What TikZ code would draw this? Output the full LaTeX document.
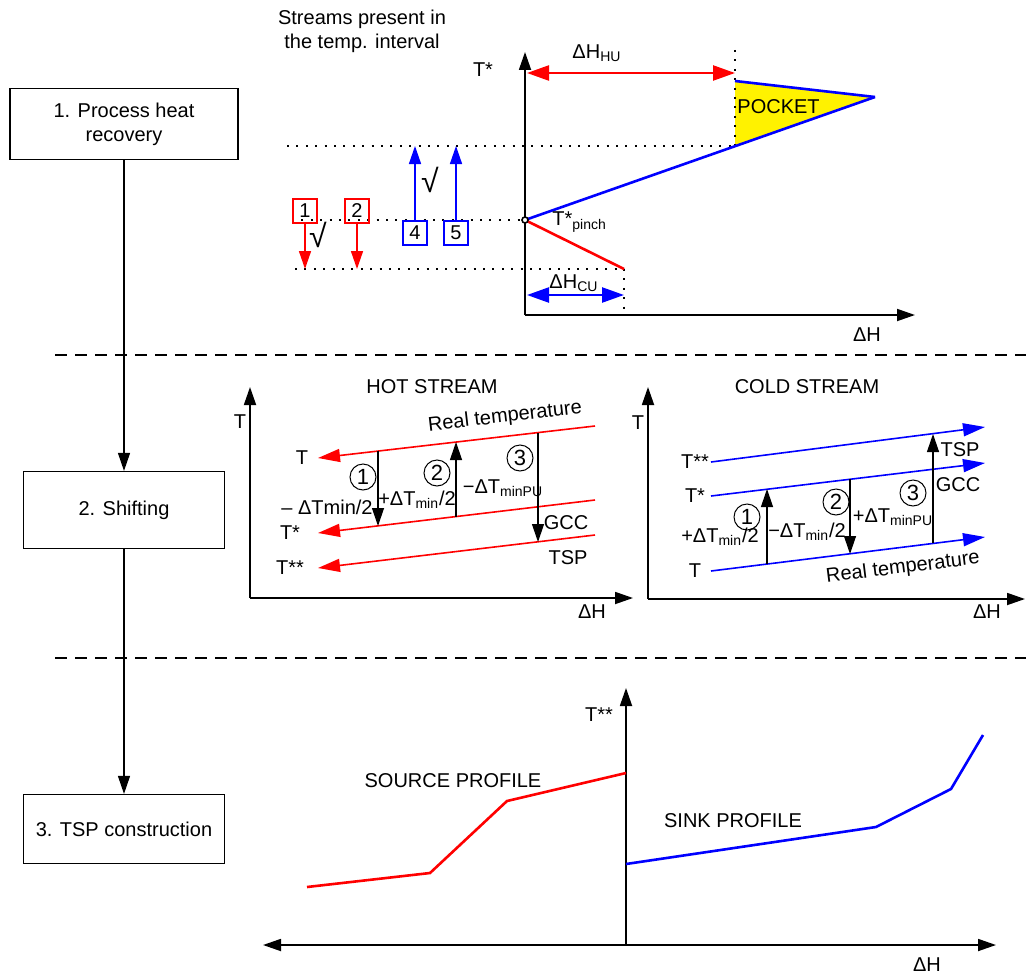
\documentclass[tikz,border=0pt]{standalone}
\usepackage{fontspec}
\setmainfont{Liberation Sans}
\usetikzlibrary{arrows.meta}
\tikzset{
    stepbox/.style={draw,line width=0.6pt,align=center},
    flow/.style={-{Triangle[length=9pt,width=6pt]},line width=0.6pt},
    axis/.style={-{Triangle[length=9pt,width=6pt]},line width=0.9pt},
    sep/.style={dash pattern=on 6pt off 4pt,line width=0.65pt},
    dots/.style={dash pattern=on 1pt off 3.7pt,line width=1pt},
    hotline/.style={red,line width=1.3pt},
    coldline/.style={blue,line width=1.3pt},
    shifted/.style={line width=0.8pt,-{Triangle[length=11pt,width=6.5pt]}},
    duty/.style={line width=1.2pt,{Triangle[length=11pt,width=7.5pt]}-{Triangle[length=11pt,width=7.5pt]}},
    shiftarrow/.style={-{Triangle[length=9pt,width=6pt]},line width=0.6pt},
    streamarrow/.style={-{Triangle[length=9pt,width=6pt]},line width=0.75pt},
    streambox/.style={draw,line width=0.7pt,minimum size=12pt,inner sep=0pt},
    circnum/.style={circle,draw,line width=0.5pt,minimum size=13pt,inner sep=0pt,font=\fontsize{11}{13}\selectfont},
    check/.style={font=\fontsize{16}{18}\selectfont},
    pinch/.style={circle,draw,fill=white,line width=0.8pt,minimum size=3pt,inner sep=0pt}
}

\begin{document}
\begin{tikzpicture}[x=0.5pt,y=-0.5pt,font=\fontsize{10}{12}\selectfont]
\useasboundingbox (0,0) rectangle (1026,974);

% steps on the left
\node[stepbox,minimum width=114pt,minimum height=35.5pt] (recov) at (124,124) {1. Process heat\\recovery};
\node[stepbox,minimum width=100.5pt,minimum height=38.5pt] (shift) at (124,510) {2. Shifting};
\node[stepbox,minimum width=100.5pt,minimum height=34.5pt] (tspbox) at (124,829) {3. TSP construction};
\draw[flow] (recov) -- (shift);
\draw[flow] (shift) -- (tspbox);

\draw[sep] (55,355) -- (1026,355);
\draw[sep] (55,658) -- (1026,658);

% 1. process heat recovery
\coordinate (o1) at (525,315);
\coordinate (pinchpt) at (525,220);
\coordinate (pocklow) at (735,146);
\coordinate (pocktop) at (735,81);
\coordinate (nose) at (875,97);
\coordinate (cuend) at (624,269);
\node[align=center] (streamtxt) at (362,31) {Streams present in\\the temp. interval};
\draw[axis] (o1) -- (525,52);
\draw[axis] (o1) -- (915,315);
\node (tstar) at (483,70) {T*};
\node (dh1) at (867,335) {ΔH};

\fill[yellow] (pocktop) -- (nose) -- (pocklow) -- cycle;
\node[anchor=west,inner sep=1pt] (pocket) at (735,107) {POCKET};
\draw[dots] (735,50) -- (pocklow);
\draw[dots] (287,146) -- (pocklow);
\draw[dots] (292,220) -- (pinchpt);
\draw[dots] (295,269) -- (cuend);
\draw[dots] (cuend) -- (624,315);
\draw[coldline] (pocktop) -- (nose);
\draw[coldline] (pinchpt) -- (nose);
\draw[hotline] (pinchpt) -- (cuend);
\node[pinch] (pinch) at (pinchpt) {};
\node[anchor=west,inner sep=1pt] (tpinch) at (550,222) {T*\textsubscript{pinch}};

\draw[duty,red] (527,73) -- (735,73);
\node (dhhu) at (597,53) {ΔH\textsubscript{HU}};
\draw[duty,blue] (527,295) -- (cuend |- 0,295);
\node (dhcu) at (574,283) {ΔH\textsubscript{CU}};

\node[streambox,red] (s1) at (305,211) {\textcolor{black}{1}};
\node[streambox,red] (s2) at (357,211) {\textcolor{black}{2}};
\node[streambox,blue] (s4) at (415,233) {\textcolor{black}{4}};
\node[streambox,blue] (s5) at (456,233) {\textcolor{black}{5}};
\draw[streamarrow,red] (s1) -- (s1 |- cuend);
\draw[streamarrow,red] (s2) -- (s2 |- cuend);
\draw[streamarrow,blue] (s4) -- (s4 |- pocklow);
\draw[streamarrow,blue] (s5) -- (s5 |- pocklow);
\node[check] (ok1) at (318,235) {√};
\node[check] (ok4) at (430,180) {√};

% 2. shifting, hot stream
\coordinate (o2) at (250,598);
\draw[axis] (o2) -- (250,387);
\draw[axis] (o2) -- (633,598);
\node (hotT) at (240,422) {T};
\node (hotdh) at (592,612) {ΔH};
\node (hottitle) at (432,387) {HOT STREAM};
\coordinate (h1a) at (595,426); \coordinate (h1b) at (318,458);
\coordinate (h2a) at (595,500); \coordinate (h2b) at (318,533);
\coordinate (h3a) at (595,535); \coordinate (h3b) at (318,568);
\draw[shifted,red] (h1a) -- (h1b);
\draw[shifted,red] (h2a) -- (h2b);
\draw[shifted,red] (h3a) -- (h3b);
\node (hT) at (302,458) {T};
\node (hTs) at (290,533) {T*};
\node (hTss) at (290,568) {T**};
\node[rotate=6.6] (hreal) at (505,417) {Real temperature};
\coordinate (ha1) at (378,451); \coordinate (hb1) at (378,526);
\coordinate (ha2) at (456,442); \coordinate (hb2) at (456,517);
\coordinate (ha3) at (538,433); \coordinate (hb3) at (538,542);
\draw[shiftarrow] (ha1) -- (hb1);
\draw[shiftarrow] (hb2) -- (ha2);
\draw[shiftarrow] (ha3) -- (hb3);
\node[circnum] (hc1) at (363,477) {1};
\node[circnum] (hc2) at (437,473) {2};
\node[circnum] (hc3) at (520,458) {3};
\node (hd1) at (327,507) {– ΔTmin/2};
\node (hd2) at (417,500) {+ΔT\textsubscript{min}/2};
\node (hd3) at (503,488) {−ΔT\textsubscript{minPU}};
\node (hgcc) at (566,523) {GCC};
\node (htsp) at (568,558) {TSP};

% 2. shifting, cold stream
\coordinate (o3) at (648,599);
\draw[axis] (o3) -- (648,387);
\draw[axis] (o3) -- (1025,599);
\node (coldT) at (638,423) {T};
\node (colddh) at (987,612) {ΔH};
\node (coldtitle) at (807,387) {COLD STREAM};
\coordinate (c1a) at (711,571); \coordinate (c1b) at (985,537);
\coordinate (c2a) at (711,496); \coordinate (c2b) at (985,463);
\coordinate (c3a) at (711,462); \coordinate (c3b) at (985,427);
\draw[shifted,blue] (c1a) -- (c1b);
\draw[shifted,blue] (c2a) -- (c2b);
\draw[shifted,blue] (c3a) -- (c3b);
\node (cT) at (695,571) {T};
\node (cTs) at (695,496) {T*};
\node (cTss) at (695,462) {T**};
\node[rotate=7.1] (creal) at (903,568) {Real temperature};
\coordinate (ca1) at (767,564); \coordinate (cb1) at (767,489);
\coordinate (ca2) at (850,479); \coordinate (cb2) at (850,554);
\coordinate (ca3) at (933,543); \coordinate (cb3) at (933,434);
\draw[shiftarrow] (ca1) -- (cb1);
\draw[shiftarrow] (ca2) -- (cb2);
\draw[shiftarrow] (ca3) -- (cb3);
\node[circnum] (cc1) at (747,517) {1};
\node[circnum] (cc2) at (836,502) {2};
\node[circnum] (cc3) at (913,493) {3};
\node (cd1) at (720,537) {+ΔT\textsubscript{min}/2};
\node (cd2) at (807,532) {−ΔT\textsubscript{min}/2};
\node (cd3) at (893,517) {+ΔT\textsubscript{minPU}};
\node (cgcc) at (958,485) {GCC};
\node (ctsp) at (960,450) {TSP};

% 3. TSP construction
\coordinate (o4) at (626,945);
\draw[axis] (o4) -- (626,688);
\draw[axis,{Triangle[length=9pt,width=6pt]}-{Triangle[length=9pt,width=6pt]}] (263,945) -- (996,945);
\node (tss) at (599,715) {T**};
\node (dh4) at (927,965) {ΔH};
\draw[hotline] (307,887) -- (430,873) -- (507,801) -- (626,773);
\draw[coldline] (626,864) -- (876,827) -- (951,789) -- (983,735);
\node (source) at (453,781) {SOURCE PROFILE};
\node (sink) at (733,821) {SINK PROFILE};

\end{tikzpicture}
\end{document}
